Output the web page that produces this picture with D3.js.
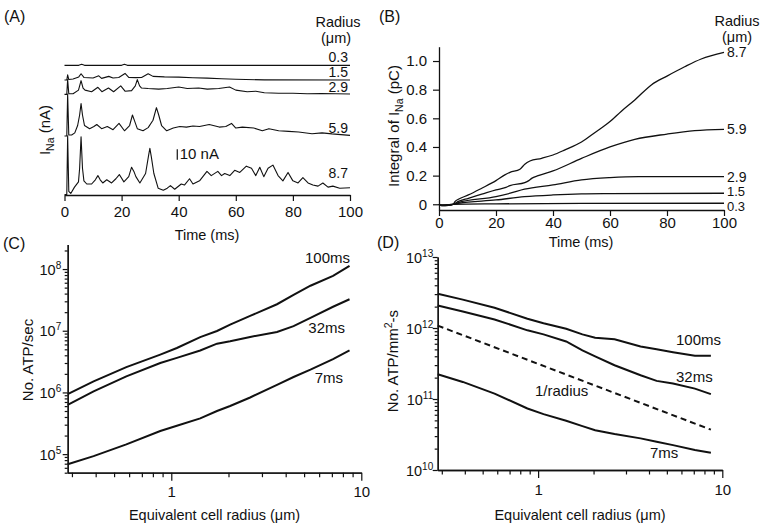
<!DOCTYPE html>
<html><head><meta charset="utf-8">
<script src="https://cdn.jsdelivr.net/npm/d3@7"></script>
<style>
body{margin:0;background:#fff;}
svg{display:block;font-family:"Liberation Sans",Arial,Helvetica,sans-serif;}
</style></head><body>
<svg id="chart" width="764" height="532"></svg>
<script>
// ---------------- DATA ----------------
const radiusLabels = ["0.3", "1.5", "2.9", "5.9", "8.7"];
// Panel A: Na current traces (time ms, current nA) and display offsets (nA)
const traceOffsets = [123, 109, 95.4, 55.7, 0];
const currentR03 = [[0,0],[5,0],[6,1],[7,0],[20,0],[21,1],[22,0],[100,0]];
const currentR15 = [[0,0],[0.8,0],[1.1,5],[1.5,0.5],[3,1],[5,3],[5.8,6],[6.8,2.5],[10,2],[12,4],[13,1.6],[15.5,3.5],[17,2],[19,2.5],[21.2,6.3],[22.5,2.5],[25,2.3],[27,2.5],[29.3,6],[31,3.5],[35,3],[40,2.8],[45,2.2],[50,1.8],[55,1.2],[60,0.7],[70,0.2],[100,0]];
const currentR29 = [[0,0],[0.8,0],[1.1,14],[1.5,0.5],[3,0.5],[4.9,4],[5.8,13],[6.5,6],[7.2,4],[9.5,2.5],[11.7,6.7],[13.1,2.5],[15.4,6],[17.2,2.5],[19.7,8],[21.2,3],[23.5,3.5],[24.8,8],[25.5,14],[26.3,8],[27,6],[29.3,5.5],[33,5],[36,5.5],[40,7],[43,5.5],[47,6],[50,5],[54,5.5],[57.8,7],[60,4],[64,2.5],[67,3],[70,1.5],[75,1],[80,1],[85,0.5],[90,0.8],[100,0.3]];
const currentR59 = [[0,0],[0.8,0],[1.1,40],[1.5,1],[2.5,1],[3.6,3],[4.6,10],[5.3,20],[5.8,31],[6.3,20],[7,10],[8.8,7],[10.3,9],[11.3,11],[13,7],[15,9],[17,6],[19.1,12],[21,5],[22.8,10],[23.8,20],[24.6,14],[25.5,7],[27.5,5],[29.3,8],[31,15],[32.2,27],[33,20],[34,10],[35.8,5],[38.1,7.6],[40.4,9],[42.7,8.5],[45,9.5],[47.3,9],[50.7,11],[54.2,8.5],[56.5,9],[58.5,12],[60,7.6],[62.3,8.5],[66.3,7.6],[69.3,5],[71.6,7],[75,5],[78.5,4.4],[82,3.8],[86.7,2.2],[90.2,3],[93.7,2],[100,0.6]];
const currentR87 = [[0,0],[0.8,0],[1.1,56],[1.5,3],[2.2,1],[3.5,7],[4.9,12],[5.3,25],[5.8,55],[6.3,25],[6.8,13],[7.8,10],[9.5,10],[10.8,14],[11.7,18],[12.5,14],[13.4,11],[14.8,14],[16.5,11],[18,15],[19.2,19],[20.8,12],[22.5,17],[23.5,26],[24.3,22],[25,17],[26.4,11],[28.4,20],[29.5,38],[29.9,44],[30.4,36],[31.3,20],[32.8,6],[34.6,4],[36,6],[37.1,8.5],[38.6,5],[40.9,10],[42,9],[43.8,15],[45,10],[47.3,13],[49.9,22],[51.4,18],[53.7,22],[55,18],[56.1,20],[57.9,18],[59.6,23],[61.4,21],[63.7,27],[65.5,25],[67,18],[68.4,26],[69.8,17],[71.3,25],[73,28],[74.8,18],[76.5,13],[78.3,21],[80,13],[81.8,11],[83.5,16],[85.3,11],[87,9],[88.8,8],[90.5,11],[92.3,7],[94,8],[96.4,6],[100,6.5]];
const timeTicks = [0, 20, 40, 60, 80, 100];

// Panel B: integral of INa (time ms, pC)
const integralR03 = [[0,0],[1,-0.004],[3.3,-0.003],[5,0],[20,0.003],[50,0.006],[100,0.007]];
const integralR15 = [[0,0],[1,-0.006],[3.3,-0.004],[5,0],[6.8,0.007],[20,0.03],[30,0.053],[40,0.065],[50,0.072],[60,0.074],[100,0.077]];
const integralR29 = [[0,0],[1,-0.008],[3.3,-0.006],[5,0],[6.8,0.012],[20,0.053],[25,0.077],[30,0.105],[40,0.135],[50,0.17],[60,0.186],[70,0.193],[100,0.193]];
const integralR59 = [[0,0],[1,-0.01],[3.3,-0.008],[5,0],[6.8,0.02],[10.3,0.042],[15,0.07],[20,0.10],[23.5,0.118],[24.9,0.13],[30.1,0.151],[31.5,0.165],[32.5,0.181],[34.8,0.2],[40,0.233],[50,0.32],[60,0.40],[68.7,0.453],[80,0.49],[89.7,0.514],[100,0.523]];
const integralR87 = [[0,0],[1,-0.01],[3.3,-0.008],[5,0],[5.6,0.019],[6.8,0.035],[10.3,0.065],[15,0.112],[20,0.165],[23.1,0.205],[24.9,0.223],[28.4,0.245],[30.1,0.28],[31.9,0.302],[36,0.321],[40,0.344],[44.2,0.38],[50,0.435],[55,0.505],[60,0.577],[64,0.65],[68.7,0.728],[74.5,0.833],[80,0.895],[86.2,0.96],[92,1.014],[100,1.06]];
const integralTicks = [0, 0.2, 0.4, 0.6, 0.8, 1.0];

// Panels C, D: equivalent cell radius (um)
const cellRadius = [0.285, 0.39, 0.58, 0.875, 1.07, 1.42, 1.74, 2.04, 2.6, 3.6, 4.4, 5.4, 7.1, 8.67];
const durationLabels = ["100ms", "32ms", "7ms"];
// Panel C: No. ATP / sec
const atpRate100 = [9.4e5,1.51e6,2.57e6,4.11e6,5.25e6,7.89e6,9.9e6,1.26e7,1.74e7,2.69e7,3.8e7,5.37e7,7.76e7,1.13e8];
const atpRate32  = [6.3e5,1.04e6,1.82e6,3.0e6,3.63e6,4.79e6,6.17e6,6.76e6,7.94e6,9.55e6,1.19e7,1.62e7,2.45e7,3.24e7];
const atpRate7   = [6.87e4,9.27e4,1.44e5,2.37e5,2.88e5,3.8e5,5.0e5,6.03e5,8.28e5,1.33e6,1.78e6,2.34e6,3.47e6,4.79e6];
// Panel D: No. ATP / mm^2-s
const atpDensity100 = [3.03e12,2.51e12,1.93e12,1.35e12,1.17e12,9.77e11,8.13e11,7.31e11,6.92e11,5.5e11,5.01e11,4.57e11,4.07e11,4.05e11];
const atpDensity32  = [2.08e12,1.71e12,1.32e12,9.27e11,8.13e11,6.46e11,4.85e11,3.98e11,2.99e11,2.16e11,1.8e11,1.65e11,1.4e11,1.17e11];
const atpDensity7   = [2.23e11,1.74e11,1.19e11,7.36e10,6.12e10,4.93e10,4.15e10,3.63e10,3.21e10,2.79e10,2.5e10,2.24e10,1.91e10,1.75e10];
const inverseRadius = [[0.285, 1.08e12], [8.67, 3.7e10]];
const radiusMajorTicks = [1, 10];
const radiusMinorTicks = [0.3,0.4,0.5,0.6,0.7,0.8,0.9,2,3,4,5,6,7,8,9];

// ---------------- DRAWING ----------------
const svg = d3.select("#chart");
const INK = "#111";
const FS = 15;

function styleAxis(g, fs) {
  g.attr("font-family", null).attr("font-size", fs);
  g.selectAll("path.domain").attr("stroke", INK).attr("stroke-width", 1.3);
  g.selectAll(".tick line").attr("stroke", INK).attr("stroke-width", 1.2);
  g.selectAll(".tick text").attr("fill", INK);
}
function text(x, y, str, opts = {}) {
  return svg.append("text").attr("x", x).attr("y", y).attr("font-size", opts.fs || FS)
    .attr("fill", INK).attr("text-anchor", opts.anchor || "start").text(str);
}

// ===== Panel A =====
const xA = d3.scaleLinear().domain([0, 100]).range([64.5, 350]);
const yA = d3.scaleLinear().domain([0, 130]).range([194.5, 58]);
const gAx = svg.append("g").attr("transform", "translate(0,195)")
  .call(d3.axisBottom(xA).tickValues(timeTicks).tickSize(6).tickPadding(5).tickSizeOuter(0));
styleAxis(gAx, FS);
const tracesA = [currentR03, currentR15, currentR29, currentR59, currentR87];
tracesA.forEach((tr, i) => {
  const line = d3.line().x(d => xA(d[0])).y(d => yA(d[1] + traceOffsets[i]));
  svg.append("path").attr("d", line(tr)).attr("fill", "none").attr("stroke", INK).attr("stroke-width", 1.1).attr("stroke-linejoin", "round");
});
const labelYA = [61.5, 76.5, 92, 133, 178];
radiusLabels.forEach((r, i) => text(348, labelYA[i], r, {anchor: "end", fs: 14}));
text(338, 27, "Radius", {anchor: "middle", fs: 14.5});
text(336, 43, "(\u03bcm)", {anchor: "middle", fs: 14.5});
// scale bar 10 nA
svg.append("line").attr("x1", xA(39.5)).attr("x2", xA(39.5)).attr("y1", yA(33)).attr("y2", yA(43))
  .attr("stroke", INK).attr("stroke-width", 1.2);
text(xA(39.5) + 2.5, yA(33) - 0.5, "10 nA");
text(207, 240, "Time (ms)", {anchor: "middle", fs: 14.5});
{
  const t = svg.append("text").attr("transform", "translate(50,130) rotate(-90)").attr("text-anchor", "middle")
    .attr("font-size", FS).attr("fill", INK);
  t.append("tspan").text("I");
  t.append("tspan").attr("dy", 4).attr("font-size", 10.5).text("Na");
  t.append("tspan").attr("dy", -4).text(" (nA)");
}
text(4, 22, "(A)", {fs: 16});

// ===== Panel B =====
const xB = d3.scaleLinear().domain([0, 100]).range([439, 724]);
const yB = d3.scaleLinear().domain([-0.04, 1.1]).range([210, 46.7]);
const gBx = svg.append("g").attr("transform", "translate(0,210)")
  .call(d3.axisBottom(xB).tickValues(timeTicks).tickSize(6).tickPadding(1).tickSizeOuter(0));
styleAxis(gBx, FS);
const gBy = svg.append("g").attr("transform", "translate(439,0)")
  .call(d3.axisLeft(yB).tickValues(integralTicks).tickSize(6).tickPadding(6).tickSizeOuter(0)
    .tickFormat(d => d === 0 ? "0" : d3.format(".1f")(d)));
styleAxis(gBy, FS);
const curvesB = [integralR03, integralR15, integralR29, integralR59, integralR87];
const labelShiftB = [8, 2.5, 5, 5, 5];
const labelSizeB = [13, 13, 14, 14, 14];
curvesB.forEach((c, i) => {
  const line = d3.line().x(d => xB(d[0])).y(d => yB(d[1])).curve(d3.curveMonotoneX);
  svg.append("path").attr("d", line(c)).attr("fill", "none").attr("stroke", INK).attr("stroke-width", 1.3);
  const last = c[c.length - 1];
  text(727, yB(last[1]) + labelShiftB[i], radiusLabels[i], {fs: labelSizeB[i]});
});
text(737, 26, "Radius", {anchor: "middle", fs: 14.5});
text(737, 41.5, "(\u03bcm)", {anchor: "middle", fs: 14.5});
text(581, 247, "Time (ms)", {anchor: "middle", fs: 14.5});
{
  const t = svg.append("text").attr("transform", "translate(399,126) rotate(-90)").attr("text-anchor", "middle")
    .attr("font-size", FS).attr("fill", INK);
  t.append("tspan").text("Integral of I");
  t.append("tspan").attr("dy", 4).attr("font-size", 10.5).text("Na");
  t.append("tspan").attr("dy", -4).text(" (pC)");
}
text(379, 22, "(B)", {fs: 16});

// ===== log panels helper =====
function logPanel(cfg) {
  const x = d3.scaleLog().domain([0.285, 10]).range(cfg.xRange);
  const y = d3.scaleLog().domain(cfg.yDomain).range(cfg.yRange);
  const x0 = cfg.xRange[0], y0 = cfg.yRange[0];
  const gxm = svg.append("g").attr("transform", `translate(0,${y0})`)
    .call(d3.axisBottom(x).tickValues(radiusMinorTicks).tickSize(4.5).tickFormat("").tickSizeOuter(0));
  styleAxis(gxm, FS);
  const gxM = svg.append("g").attr("transform", `translate(0,${y0})`)
    .call(d3.axisBottom(x).tickValues(radiusMajorTicks).tickSize(8).tickPadding(6).tickFormat(d3.format("d")).tickSizeOuter(0));
  styleAxis(gxM, FS);
  const [lo, hi] = cfg.yDomain;
  const minor = [], major = [];
  for (let e = Math.floor(Math.log10(lo)); e <= Math.ceil(Math.log10(hi)); e++) {
    for (let m = 1; m <= 9; m++) {
      const v = m * Math.pow(10, e);
      if (v < lo * 0.999 || v > hi * 1.001) continue;
      (m === 1 ? major : minor).push(v);
    }
  }
  const gym = svg.append("g").attr("transform", `translate(${x0},0)`)
    .call(d3.axisLeft(y).tickValues(minor).tickSize(3).tickFormat("").tickSizeOuter(0));
  styleAxis(gym, FS);
  const gyM = svg.append("g").attr("transform", `translate(${x0},0)`)
    .call(d3.axisLeft(y).tickValues(major).tickSize(5).tickFormat("").tickSizeOuter(0));
  styleAxis(gyM, FS);
  gyM.selectAll(".tick").each(function(d) {
    const t = d3.select(this).append("text").attr("x", cfg.labelDx).attr("y", 5)
      .attr("text-anchor", "end").attr("fill", INK).attr("font-size", 14.5);
    t.append("tspan").text("10");
    t.append("tspan").attr("dy", -6).attr("font-size", 10).text(Math.round(Math.log10(d)));
  });
  cfg.series.forEach(s => {
    const line = d3.line().x(d => x(d[0])).y(d => y(d[1]));
    svg.append("path").attr("d", line(s.data)).attr("fill", "none").attr("stroke", INK)
      .attr("stroke-width", 2).attr("stroke-dasharray", s.dash || null);
  });
  cfg.labels.forEach(l => text(l.x, l.y, l.text, {anchor: l.anchor}));
  text((cfg.xRange[0] + cfg.xRange[1]) / 2, 520, "Equivalent cell radius (\u03bcm)", {anchor: "middle", fs: 14.5});
  return {x, y};
}
const zip = (xs, ys) => xs.map((v, i) => [v, ys[i]]);

// ===== Panel C =====
logPanel({
  xRange: [67.7, 361.3], yDomain: [5e4, 2.5e8], yRange: [472.7, 244.5], labelDx: -6.5,
  series: [{data: zip(cellRadius, atpRate100)}, {data: zip(cellRadius, atpRate32)}, {data: zip(cellRadius, atpRate7)}],
  labels: [{x: 350, y: 263, text: durationLabels[0], anchor: "end"},
           {x: 345, y: 333, text: durationLabels[1], anchor: "end"},
           {x: 343, y: 383, text: durationLabels[2], anchor: "end"}]
});
svg.append("text").attr("transform", "translate(33,360) rotate(-90)").attr("text-anchor", "middle")
  .attr("font-size", FS).attr("fill", INK).text("No. ATP/sec");
text(3, 249, "(C)", {fs: 16});

// ===== Panel D =====
logPanel({
  xRange: [437.7, 722.3], yDomain: [1e10, 1e13], yRange: [470, 257], labelDx: -4.5,
  series: [{data: zip(cellRadius, atpDensity100)}, {data: zip(cellRadius, atpDensity32)},
           {data: inverseRadius, dash: "6,4"}, {data: zip(cellRadius, atpDensity7)}],
  labels: [{x: 676, y: 345, text: durationLabels[0]},
           {x: 676, y: 382, text: durationLabels[1]},
           {x: 535, y: 396, text: "1/radius"},
           {x: 650, y: 458, text: durationLabels[2]}]
});
{
  const t = svg.append("text").attr("transform", "translate(398,361) rotate(-90)").attr("text-anchor", "middle")
    .attr("font-size", FS).attr("fill", INK);
  t.append("tspan").text("No. ATP/mm");
  t.append("tspan").attr("dy", -6).attr("font-size", 10.5).text("2");
  t.append("tspan").attr("dy", 6).text("-s");
}
text(377, 248, "(D)", {fs: 16});
</script>
</body></html>
